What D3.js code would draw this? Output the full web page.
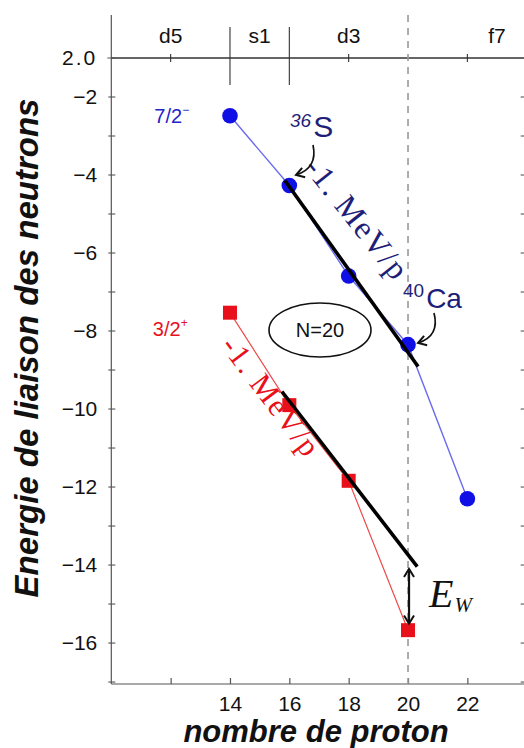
<!DOCTYPE html>
<html><head><meta charset="utf-8">
<script src="https://cdn.jsdelivr.net/npm/d3@7"></script>
<style>
html,body{margin:0;padding:0;background:#fff;}
svg{display:block;}
</style></head>
<body>
<script>
// ---------- data ----------
const protons = [14, 16, 18, 20, 22];
const bindingF72 = [-2.48, -4.27, -6.59, -8.35, -12.3];      // 7/2- (blue circles)
const protonsD32 = [14, 16, 18, 20];
const bindingD32 = [-7.53, -9.9, -11.84, -15.67];           // 3/2+ (red squares)
const fitF72 = [[15.85, -4.14], [20.34, -8.91]];             // -1 MeV/p line (7/2-)
const fitD32 = [[15.75, -9.55], [20.31, -14.04]];            // -1 MeV/p line (3/2+)
const xTicks = [12, 14, 16, 18, 20, 22];
const xTickLabels = ["", "14", "16", "18", "20", "22"];
const yTicks = [-2, -4, -6, -8, -10, -12, -14, -16];
const yMinorTicks = [-2, -3, -4, -5, -6, -7, -8, -9, -10, -11, -12, -13, -14, -15, -16, -17];
const shellLabels = ["d5", "s1", "d3", "f7"];
const shellCenters = [12, 15, 18, 23];
const shellBounds = [14, 16];
const magicN = 20;
const ewGap = [-14.1, -15.5];

// ---------- layout ----------
const W = 524, H = 748;
const svg = d3.select("body").append("svg").attr("width", W).attr("height", H);
const x = d3.scaleLinear().domain([10, 24]).range([111.3, 526.7]);
const y = d3.scaleLinear().domain([-17.05, -1]).range([684, 58]);

const sans = "'Liberation Sans', Arial, Helvetica, sans-serif";
const serif = "'Liberation Serif', 'Times New Roman', serif";
const axisCol = "#555";

// frame lines
const g = svg.append("g");
g.append("line").attr("x1", x(10)).attr("x2", x(10)).attr("y1", 15).attr("y2", y(-17.05)).attr("stroke", axisCol).attr("stroke-width", 1.2);
g.append("line").attr("x1", x(10)).attr("x2", x(24)).attr("y1", y(-17.05)).attr("y2", y(-17.05)).attr("stroke", axisCol).attr("stroke-width", 1.2);
g.append("line").attr("x1", x(10)).attr("x2", x(24)).attr("y1", y(-1)).attr("y2", y(-1)).attr("stroke", "#333").attr("stroke-width", 1.3);

// bottom axis (ticks inward)
const xAxis = d3.axisBottom(x).tickValues(xTicks).tickSize(-6).tickPadding(12)
  .tickFormat((d, i) => xTickLabels[i]);
const gx = svg.append("g").attr("transform", `translate(0,${y(-17.05)})`).call(xAxis);
gx.select(".domain").remove();
gx.selectAll(".tick line").attr("stroke", axisCol).attr("stroke-width", 1.2);
gx.selectAll("text").attr("font-family", sans).attr("font-size", 21).attr("fill", "#111");

// left axis
const yAxis = d3.axisLeft(y).tickValues(yTicks).tickSize(0).tickPadding(14)
  .tickFormat(d => "\u2212" + Math.abs(d));
const gy = svg.append("g").attr("transform", `translate(${x(10)},0)`).call(yAxis);
gy.select(".domain").remove();
gy.selectAll("text").attr("font-family", sans).attr("font-size", 21).attr("fill", "#111");
// minor ticks left & right
svg.append("g").selectAll("line").data(yMinorTicks).join("line")
  .attr("x1", x(10) - 3).attr("x2", x(10) + 4).attr("y1", d => y(d)).attr("y2", d => y(d))
  .attr("stroke", axisCol).attr("stroke-width", 1.1);
svg.append("g").selectAll("line").data(yMinorTicks).join("line")
  .attr("x1", x(24) - 6).attr("x2", x(24)).attr("y1", d => y(d)).attr("y2", d => y(d))
  .attr("stroke", axisCol).attr("stroke-width", 1.1);
// top label "2.0"
svg.append("text").attr("x", x(10) - 14).attr("y", y(-1)).attr("dy", "0.35em")
  .attr("text-anchor", "end").attr("font-family", sans).attr("font-size", 21).attr("letter-spacing", 2)
  .attr("fill", "#111").text("2.0");
svg.append("line").attr("x1", x(10) - 4).attr("x2", x(10) + 3).attr("y1", y(-1)).attr("y2", y(-1)).attr("stroke", axisCol);

// top band: shell separators, labels, small ticks
svg.append("g").selectAll("line").data(shellBounds).join("line")
  .attr("x1", d => x(d)).attr("x2", d => x(d)).attr("y1", 27).attr("y2", 85)
  .attr("stroke", "#333").attr("stroke-width", 1.1);
svg.append("g").selectAll("line").data([12, 18, 22]).join("line")
  .attr("x1", d => x(d)).attr("x2", d => x(d)).attr("y1", y(-1) - 4).attr("y2", y(-1) + 4)
  .attr("stroke", "#333").attr("stroke-width", 1.1);
svg.append("g").selectAll("text").data(shellLabels).join("text")
  .attr("x", (d, i) => x(shellCenters[i])).attr("y", 43).attr("text-anchor", "middle")
  .attr("font-family", sans).attr("font-size", 21).attr("fill", "#111").text(d => d);

// N=20 dashed line
svg.append("line").attr("x1", x(magicN)).attr("x2", x(magicN)).attr("y1", 15).attr("y2", y(-17.05))
  .attr("stroke", "#999").attr("stroke-width", 1.6).attr("stroke-dasharray", "7,6");

// axis titles
svg.append("text").attr("x", x(16.9)).attr("y", 742).attr("text-anchor", "middle")
  .attr("font-family", sans).attr("font-weight", "bold").attr("font-style", "italic")
  .attr("font-size", 31).attr("fill", "#111").text("nombre de proton");
svg.append("text").attr("transform", "translate(38,348) rotate(-90)").attr("text-anchor", "middle")
  .attr("font-family", sans).attr("font-weight", "bold").attr("font-style", "italic")
  .attr("font-size", 33).attr("fill", "#111").text("Energie de liaison des neutrons");

// ---------- series ----------
const blue = "#1010e6", red = "#e8101a", navy = "#1e1e78";
const line = d3.line().x(d => x(d[0])).y(d => y(d[1]));
const blueData = protons.map((p, i) => [p, bindingF72[i]]);
const redData = protonsD32.map((p, i) => [p, bindingD32[i]]);

svg.append("path").datum(blueData).attr("d", line).attr("fill", "none").attr("stroke", "#6b6bf0").attr("stroke-width", 1.4);
svg.append("path").datum(redData).attr("d", line).attr("fill", "none").attr("stroke", "#ee4a4a").attr("stroke-width", 1.2);

svg.append("g").selectAll("circle").data(blueData).join("circle")
  .attr("cx", d => x(d[0])).attr("cy", d => y(d[1])).attr("r", 7.8).attr("fill", blue);
svg.append("g").selectAll("rect").data(redData).join("rect")
  .attr("x", d => x(d[0]) - 7).attr("y", d => y(d[1]) - 7).attr("width", 14).attr("height", 14).attr("fill", red);

// black fit lines (drawn over the points)
svg.append("path").datum(fitF72).attr("d", line).attr("stroke", "#000").attr("stroke-width", 3.6).attr("fill", "none");
svg.append("path").datum(fitD32).attr("d", line).attr("stroke", "#000").attr("stroke-width", 3.6).attr("fill", "none");

// ---------- annotations ----------
const t72 = svg.append("text").attr("x", x(11.45)).attr("y", 123).attr("font-family", sans).attr("font-size", 20).attr("fill", "#2323c8");
t72.append("tspan").text("7/2");
t72.append("tspan").attr("dy", -9).attr("font-size", 12).text("\u2212");
const t32 = svg.append("text").attr("x", x(11.4)).attr("y", 336).attr("font-family", sans).attr("font-size", 20).attr("fill", red);
t32.append("tspan").text("3/2");
t32.append("tspan").attr("dy", -9).attr("font-size", 12).text("+");

// 36S
const tS = svg.append("text").attr("x", 290).attr("y", 137).attr("font-family", sans).attr("fill", navy);
tS.append("tspan").attr("font-size", 19).attr("font-style", "italic").attr("dy", -10).text("36");
tS.append("tspan").attr("font-size", 30).attr("dy", 10).attr("dx", 2).text("S");
// 40Ca
const tCa = svg.append("text").attr("x", 403).attr("y", 308).attr("font-family", sans).attr("fill", navy);
tCa.append("tspan").attr("font-size", 19).attr("dy", -11).text("40");
tCa.append("tspan").attr("font-size", 28).attr("dy", 11).attr("dx", 2).text("Ca");

// slope labels
svg.append("text").attr("transform", "translate(303,168) rotate(51.5)")
  .attr("font-family", serif).attr("font-size", 32).attr("letter-spacing", 1.5).attr("fill", navy).text("-1. MeV/p");
svg.append("text").attr("transform", "translate(220,346) rotate(53)")
  .attr("font-family", serif).attr("font-size", 31).attr("letter-spacing", 1.5).attr("fill", red).text("-1. MeV/p");

// N=20 ellipse
svg.append("ellipse").attr("cx", 320).attr("cy", 330).attr("rx", 51).attr("ry", 27)
  .attr("fill", "none").attr("stroke", "#111").attr("stroke-width", 1.6);
svg.append("text").attr("x", 320).attr("y", 330).attr("dy", "0.36em").attr("text-anchor", "middle")
  .attr("font-family", sans).attr("font-size", 20).attr("fill", "#111").text("N=20");

// arrow markers
const defs = svg.append("defs");
defs.append("marker").attr("id", "chev").attr("viewBox", "-10 -6 12 12").attr("refX", 0).attr("refY", 0)
  .attr("markerWidth", 12).attr("markerHeight", 12).attr("markerUnits", "userSpaceOnUse").attr("orient", "auto-start-reverse")
  .append("path").attr("d", "M-8,-5 L0,0 L-8,5").attr("fill", "none").attr("stroke", "#111").attr("stroke-width", 2);

// curved arrows
svg.append("path").attr("d", "M313,145 Q318,168 296,175").attr("fill", "none").attr("stroke", "#111").attr("stroke-width", 1.7).attr("marker-end", "url(#chev)");
svg.append("path").attr("d", "M434,313 Q440,336 418,343").attr("fill", "none").attr("stroke", "#111").attr("stroke-width", 1.7).attr("marker-end", "url(#chev)");

// E_W double arrow
svg.append("line").attr("x1", x(magicN) + 1).attr("x2", x(magicN) + 1).attr("y1", y(ewGap[0])).attr("y2", y(ewGap[1]))
  .attr("stroke", "#111").attr("stroke-width", 2.2)
  .attr("marker-start", "url(#chev)").attr("marker-end", "url(#chev)");
const tEW = svg.append("text").attr("x", 429).attr("y", 607).attr("font-family", serif).attr("font-style", "italic").attr("fill", "#111");
tEW.append("tspan").attr("font-size", 40).text("E");
tEW.append("tspan").attr("font-size", 21).attr("dy", 5).attr("dx", 1).text("W");
</script>
</body></html>
